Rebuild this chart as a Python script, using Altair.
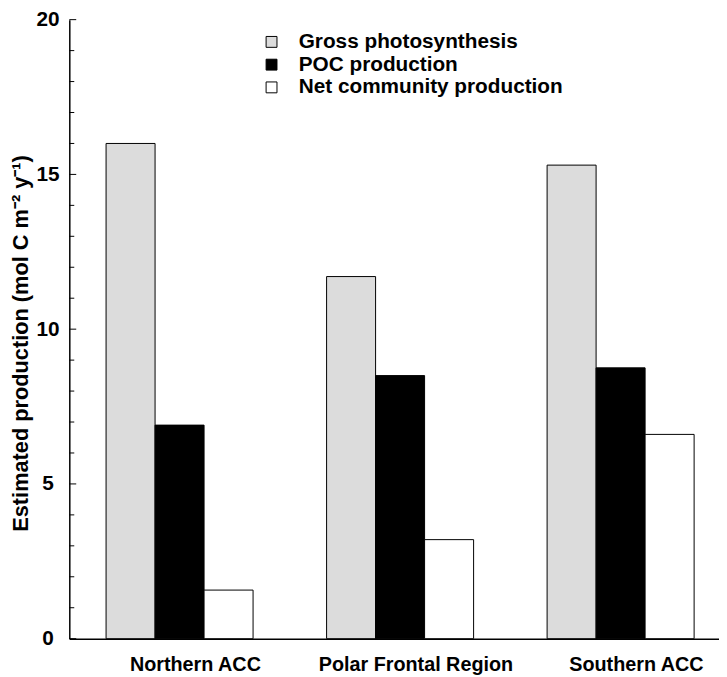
import altair as alt
import pandas as pd

regions = ["Northern ACC", "Polar Frontal Region", "Southern ACC"]
series = ["Gross photosynthesis", "POC production", "Net community production"]
gross = [16.0, 11.7, 15.3]
poc = [6.9, 8.5, 8.75]
ncp = [1.57, 3.2, 6.6]
colors = ["#dcdcdc", "#000000", "#ffffff"]
major_ticks = [0, 5, 10, 15, 20]
minor_ticks = [v for v in range(0, 21) if v not in major_ticks]

rows = []
for s, vals in zip(series, [gross, poc, ncp]):
    for r, v in zip(regions, vals):
        rows.append({"region": r, "series": s, "value": v})
df = pd.DataFrame(rows)

FONT = "Liberation Sans"

bars = alt.Chart(df).mark_bar(stroke="black", strokeWidth=1).encode(
    x=alt.X("region:N", sort=regions,
            scale=alt.Scale(range=[0, 669], paddingInner=1/3, paddingOuter=1/6),
            axis=alt.Axis(title=None, ticks=False, labelAngle=0, labelFontSize=20,
                          labelFontWeight="bold", labelFont=FONT, labelColor="black",
                          labelPadding=16, labelOffset=16, labelLimit=0,
                          domainColor="black", domainWidth=1.5, grid=False)),
    xOffset=alt.XOffset("series:N", sort=series, scale=alt.Scale(paddingInner=0, paddingOuter=0)),
    y=alt.Y("value:Q", scale=alt.Scale(domain=[0, 20], nice=False),
            axis=alt.Axis(title="Estimated production (mol C m⁻² y⁻¹)", values=major_ticks,
                          ticks=False, tickSize=0, labelAlign="center", labelPadding=22,
                          labelFontSize=21, labelFontWeight="bold", labelFont=FONT,
                          labelColor="black", titleFontSize=22, titleFont=FONT,
                          titleFontWeight="bold", titleColor="black", titleX=-49,
                          titleY=327, titleBaseline="middle", domainColor="black",
                          domainWidth=1.5, grid=False)),
    fill=alt.Fill("series:N", sort=series,
                  scale=alt.Scale(domain=series, range=colors),
                  legend=alt.Legend(title=None, orient="none", legendX=194, legendY=12,
                                    symbolType="square", symbolSize=121,
                                    symbolStrokeColor="black", symbolStrokeWidth=1,
                                    labelFontSize=21, labelFontWeight="bold",
                                    labelFont=FONT, labelColor="black", labelOffset=17,
                                    labelLimit=0, rowPadding=1)),
)

major_df = pd.DataFrame({"v": major_ticks})
minor_df = pd.DataFrame({"v": minor_ticks})
major = alt.Chart(major_df).mark_rule(color="black", strokeWidth=1).encode(
    y="v:Q", x=alt.value(0), x2=alt.value(7))
minor = alt.Chart(minor_df).mark_rule(color="black", strokeWidth=1).encode(
    y="v:Q", x=alt.value(0), x2=alt.value(5))

chart = alt.layer(bars, major, minor).properties(
    width=657, height=626,
    autosize=alt.AutoSizeParams(type="none"),
    padding={"left": 62, "top": 8, "right": 0, "bottom": 38},
).configure_view(stroke=None)

chart.save("out.html", embed_options={"renderer": "svg", "actions": False})
